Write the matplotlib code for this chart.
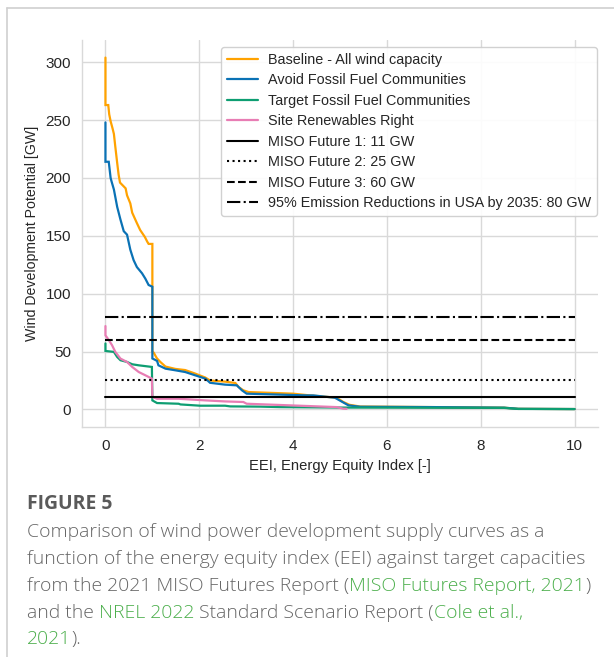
import matplotlib
matplotlib.use("Agg")
import matplotlib.pyplot as plt
import seaborn as sns
from matplotlib.lines import Line2D

# ---------------- data ----------------
baseline_x = [0, 0, 0.06, 0.08, 0.11, 0.15, 0.18, 0.21, 0.25, 0.28, 0.31, 0.43, 0.46, 0.53, 0.57,
              0.67, 0.74, 0.84, 0.89, 0.92, 1.0, 1.0, 1.03, 1.07, 1.10, 1.17, 1.28, 1.49, 1.70,
              1.91, 2.13, 2.23, 2.55, 2.77, 2.84, 2.94, 3.05, 4.0, 4.36, 4.93, 5.07, 5.2, 5.43,
              7.0, 8.5, 8.8, 10.0]
baseline_y = [304, 263, 263, 255, 249, 243, 238, 227, 213, 203, 196, 191, 185, 178, 170,
              161, 155, 149, 145, 143, 143, 50, 49, 46, 44, 41, 37, 35, 34,
              31, 27.5, 25, 24, 22.8, 19.3, 16.5, 15, 13.6, 12.1, 10.1, 6.4, 4.0, 2.5,
              2.0, 1.5, 0.5, 0.3]

avoid_x = [0, 0, 0.07, 0.09, 0.11, 0.13, 0.18, 0.25, 0.32, 0.39, 0.46, 0.53, 0.60, 0.67, 0.78,
           0.85, 0.92, 1.0, 1.0, 1.05, 1.10, 1.13, 1.28, 1.49, 1.70, 1.91, 2.13, 2.23, 2.55,
           2.80, 2.91, 3.01, 4.29, 4.43, 4.89, 4.93, 5.18, 5.43, 7.0, 8.5, 8.8, 10.0]
avoid_y = [248, 214, 214, 207, 200, 197, 190, 175, 164, 154, 151, 138, 129, 123, 117.6,
           113, 107.5, 106, 44, 43, 41.9, 38.1, 35.2, 33.8, 32.3, 29.5, 26.6, 23, 21.4,
           20.8, 16.5, 13.6, 12.1, 12.1, 10.1, 9.2, 3.5, 2.3, 2.0, 1.5, 0.5, 0.3]

target_x = [0, 0, 0.18, 0.25, 0.32, 0.46, 0.57, 0.71, 0.99, 1.0, 1.06, 1.10, 1.56, 1.60,
            2.02, 2.55, 2.66, 3.3, 3.72, 5.0, 8.5, 8.8, 10.0]
target_y = [57, 50.5, 49.7, 45.3, 42.5, 41, 39, 38.1, 36.7, 7.8, 6.4, 5.5, 4.9, 4.3,
            3.2, 3.2, 2.6, 2.4, 2.0, 1.6, 1.3, 0.4, 0.3]

site_x = [0, 0, 0.07, 0.14, 0.21, 0.32, 0.46, 0.57, 0.71, 0.85, 0.99, 1.0, 1.10, 1.56,
          2.13, 2.55, 2.94, 3.01, 4.93, 5.07, 5.14]
site_y = [72, 64, 60, 55.5, 49.7, 43.9, 41, 36.7, 32.3, 29.5, 26.6, 10.7, 9.2, 9.2,
          7.8, 6.9, 6.4, 4.9, 2.0, 0.6, 0.5]

series_labels = ["Baseline - All wind capacity", "Avoid Fossil Fuel Communities",
                 "Target Fossil Fuel Communities", "Site Renewables Right"]

target_levels = [11, 25, 60, 80]
target_labels = ["MISO Future 1: 11 GW", "MISO Future 2: 25 GW", "MISO Future 3: 60 GW",
                 "95% Emission Reductions in USA by 2035: 80 GW"]
target_xrange = [0, 10]

x_label = "EEI, Energy Equity Index [-]"
y_label = "Wind Development Potential [GW]"
x_ticks = [0, 2, 4, 6, 8, 10]
y_ticks = [0, 50, 100, 150, 200, 250, 300]

caption_title = "FIGURE 5"
caption_lines = [
    [("Comparison of wind power development supply curves as a", "body")],
    [("function of the energy equity index (EEI) against target capacities", "body")],
    [("from the 2021 MISO Futures Report (", "body"), ("MISO Futures Report, 2021", "link"), (")", "body")],
    [("and the ", "body"), ("NREL 2022", "link"), (" Standard Scenario Report (", "body"), ("Cole et al.,", "link")],
    [("2021", "link"), (").", "body")],
]

# ---------------- style ----------------
sns.set_theme(style="whitegrid")
plt.rcParams["font.family"] = ["Liberation Sans", "DejaVu Sans"]

W, H = 614, 657
fig = plt.figure(figsize=(W / 100, H / 100), dpi=100)
fig.patch.set_facecolor("white")

ax = fig.add_axes([82 / W, 1 - 427 / H, (598 - 82) / W, (427 - 40) / H])

series_colors = ["#FFA200", "#0a72b5", "#0e9e72", "#e87db4"]
series_data = [(baseline_x, baseline_y), (avoid_x, avoid_y), (target_x, target_y), (site_x, site_y)]
for (xs, ys), lab, c in zip(series_data, series_labels, series_colors):
    ax.plot(xs, ys, color=c, lw=1.6, label=lab, solid_joinstyle="miter")

styles = ["-", ":", "--", "-."]
for lev, lab, ls in zip(target_levels, target_labels, styles):
    ax.plot(target_xrange, [lev, lev], color="black", lw=1.5, ls=ls, label=lab)

ax.set_xlim(-0.5, 10.5)
ax.set_ylim(-15.2, 319.2)
ax.set_xticks(x_ticks)
ax.set_yticks(y_ticks)
ax.tick_params(labelsize=11, colors="#262626")
ax.tick_params(axis="x", pad=3)
ax.tick_params(axis="y", pad=2)
ax.set_xlabel(x_label, fontsize=10.6, color="#262626", labelpad=4)
ax.set_ylabel(y_label, fontsize=10.2, color="#262626", labelpad=4.5)
ax.grid(True, color="#d9d9d9", lw=1.0)
for s in ["top", "right"]:
    ax.spines[s].set_visible(False)
for s in ["left", "bottom"]:
    ax.spines[s].set_color("#d9d9d9")
    ax.spines[s].set_linewidth(1.0)

leg = ax.legend(loc="upper right", bbox_to_anchor=(597 / W, 1 - 47 / H),
                bbox_transform=fig.transFigure, borderaxespad=0, fontsize=10.4,
                labelspacing=0.45, handlelength=2.15, handletextpad=0.7,
                frameon=True, fancybox=True, framealpha=0.9, borderpad=0.4)
leg.get_frame().set_edgecolor("#cccccc")
for t in leg.get_texts():
    t.set_color("#262626")

# ---------------- page decorations ----------------
fig.add_artist(Line2D([7 / W, 1], [1 - 8 / H, 1 - 8 / H], transform=fig.transFigure,
                      color="#d0d0d0", lw=1.2))
fig.add_artist(Line2D([7 / W, 7 / W], [0, 1 - 8 / H], transform=fig.transFigure,
                      color="#d0d0d0", lw=1.2))

renderer = fig.canvas.get_renderer()
cap_font = ["Open Sans", "DejaVu Sans"]
body_color = "#666666"
link_color = "#4caf4c"


def text_width(s, fs, weight="normal"):
    t = fig.text(0, 0, s, fontsize=fs, family=cap_font, weight=weight)
    w = t.get_window_extent(renderer).width
    t.remove()
    return w


base_fs = 12
w1 = text_width(caption_lines[0][0][0], base_fs, weight=300)
cap_fs = base_fs * (545 - 27) / w1

x0 = 27
fig.text(x0 / W, 1 - 504 / H, caption_title, fontsize=cap_fs, family=cap_font,
         weight="bold", color="#5a5a5a", va="center", ha="left")

line_y = [532, 559, 586, 613, 639]
for segs, yp in zip(caption_lines, line_y):
    prefix = ""
    for txt, kind in segs:
        off = (text_width(prefix + "|", cap_fs, 300) - text_width("|", cap_fs, 300)) if prefix else 0
        fig.text((x0 + off) / W, 1 - yp / H, txt, fontsize=cap_fs, family=cap_font, weight=300,
                 color=body_color if kind == "body" else link_color, va="center", ha="left")
        prefix += txt

fig.savefig("out.png", dpi=100)
